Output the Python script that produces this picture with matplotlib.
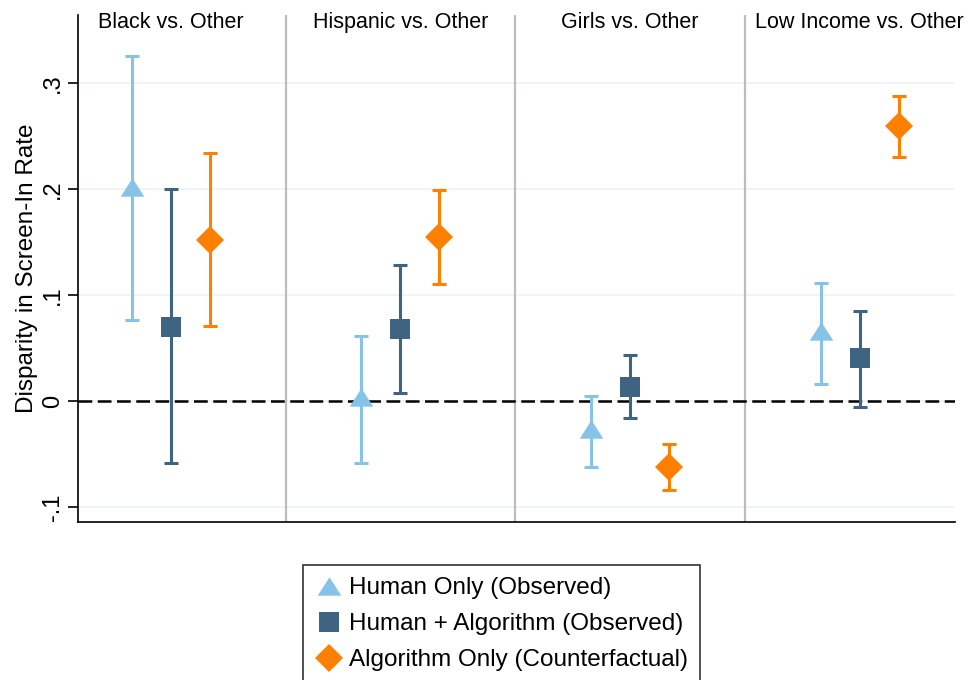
import matplotlib
matplotlib.use("Agg")
import matplotlib.pyplot as plt
import numpy as np

plt.rcParams["font.family"] = ["Liberation Sans", "DejaVu Sans"]

groups = ["Black vs. Other", "Hispanic vs. Other", "Girls vs. Other", "Low Income vs. Other"]
series = ["Human Only (Observed)", "Human + Algorithm (Observed)", "Algorithm Only (Counterfactual)"]

human_est = [0.202, 0.004, -0.026, 0.066]
human_lo = [0.076, -0.058, -0.062, 0.016]
human_hi = [0.325, 0.061, 0.005, 0.111]

hybrid_est = [0.070, 0.068, 0.013, 0.041]
hybrid_lo = [-0.058, 0.008, -0.016, -0.006]
hybrid_hi = [0.200, 0.128, 0.043, 0.085]

algo_est = [0.152, 0.155, -0.062, 0.259]
algo_lo = [0.071, 0.110, -0.084, 0.230]
algo_hi = [0.234, 0.199, -0.040, 0.288]

yticks = [-0.1, 0, 0.1, 0.2, 0.3]
ytick_labels = ["-.1", "0", ".1", ".2", ".3"]

# wide, flat triangle like Stata's
tri = [(0, 0.78), (-1, -0.78), (1, -0.78), (0, 0.78)]

colors = ["#87C3E9", "#3F6482", "#FF7F00"]
markers = [tri, "s", "D"]
msizes = [17, 15, 14.5]
offsets = [-0.17, 0.0, 0.17]

fig = plt.figure(figsize=(9.68, 6.8), dpi=100)
ax = fig.add_axes([78 / 968, 158 / 680, (955 - 78) / 968, (522 - 15) / 680])

x = np.arange(len(groups))
data = [(human_est, human_lo, human_hi), (hybrid_est, hybrid_lo, hybrid_hi),
        (algo_est, algo_lo, algo_hi)]

for yt in yticks:
    ax.axhline(yt, color="#eef2f5", lw=1.2, zorder=0)
for b in [0.5, 1.5, 2.5]:
    ax.axvline(b, color="#bdbdbd", lw=1.6, zorder=1)
ax.axhline(0, color="black", lw=1.8, ls=(0, (5.5, 2.2)), zorder=2)

handles = []
for (est, lo, hi), c, m, ms, off, lab in zip(data, colors, markers, msizes, offsets, series):
    est = np.array(est); lo = np.array(lo); hi = np.array(hi)
    ax.errorbar(x + off, est, yerr=[est - lo, hi - est], fmt="none", ecolor=c,
                elinewidth=2.2, capsize=5, capthick=2.2, zorder=3)
    h, = ax.plot(x + off, est, ls="none", marker=m, ms=ms, color=c, mec=c, mew=0,
                 zorder=4, label=lab)
    handles.append(h)

for i, g in enumerate(groups):
    ax.text(i, 0.357, g, ha="center", va="center", fontsize=15.5)

ax.set_xlim(-0.405, 3.416)
ax.set_ylim(-0.114, 0.364)
ax.set_xticks([])
ax.set_yticks(yticks)
ax.set_yticklabels(ytick_labels, rotation=90, va="center", fontsize=17)
ax.tick_params(axis="y", length=7, width=1.2, pad=3)
ax.set_ylabel("Disparity in Screen-In Rate", fontsize=17.5, labelpad=3)
for s in ["top", "right"]:
    ax.spines[s].set_visible(False)
for s in ["left", "bottom"]:
    ax.spines[s].set_linewidth(1.2)

leg = fig.legend(handles=handles, loc="upper left", bbox_to_anchor=(303 / 968, 1 - 565 / 680),
                 fontsize=17.5, frameon=True, fancybox=False, handletextpad=0.3,
                 handlelength=1.1, borderpad=0.5, labelspacing=0.58, borderaxespad=0)
leg.get_frame().set_edgecolor("black")
leg.get_frame().set_linewidth(1.2)

fig.savefig("out.png", dpi=100)
